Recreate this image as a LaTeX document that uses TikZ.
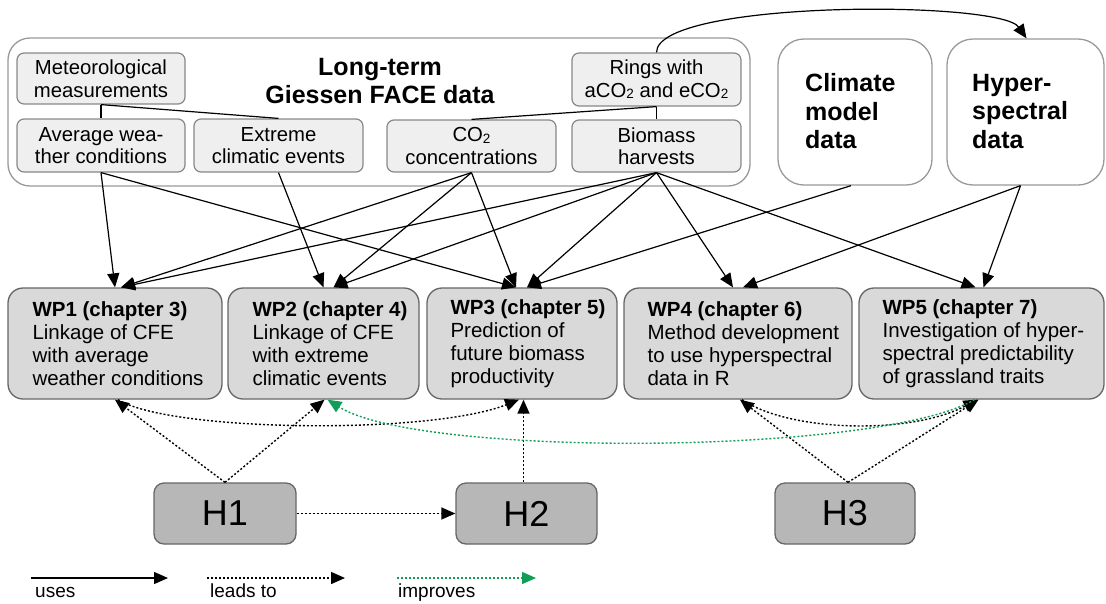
\documentclass[tikz,border=0pt]{standalone}
\usepackage{fontspec}
\setmainfont{Liberation Sans}
\usetikzlibrary{arrows.meta,calc}
\definecolor{smallfill}{HTML}{EFEFEF}
\definecolor{smalldraw}{HTML}{888888}
\definecolor{wpfill}{HTML}{D9D9D9}
\definecolor{wpdraw}{HTML}{666666}
\definecolor{hfill}{HTML}{B7B7B7}
\definecolor{outerdraw}{HTML}{999999}
\definecolor{improvegreen}{RGB}{15,157,88}
\newcommand\subtwo{\raisebox{-0.15ex}{\fontsize{13.5}{13.5}\selectfont 2}}
\begin{document}
\begin{tikzpicture}[x=1pt,y=-1pt,
  smallbox/.style={draw=smalldraw, fill=smallfill, line width=1.2pt, rounded corners=7pt, align=center, font=\fontsize{20.3}{22.5}\selectfont, inner sep=0pt},
  outerbox/.style={draw=outerdraw, line width=1.3pt, rounded corners=22pt, inner sep=0pt},
  bigbox/.style={draw=outerdraw, fill=white, line width=1.3pt, rounded corners=26pt, inner sep=0pt, minimum height=146pt},
  bigtext/.style={align=left, font=\bfseries\fontsize{25}{28.5}\selectfont, anchor=west, inner sep=0pt},
  wpbox/.style={draw=wpdraw, fill=wpfill, line width=1.3pt, rounded corners=15pt, minimum height=111pt, inner sep=0pt},
  wptext/.style={align=left, font=\fontsize{20.5}{23}\selectfont, anchor=west, inner sep=0pt},
  hbox/.style={draw=wpdraw, fill=hfill, line width=1.3pt, rounded corners=10pt, minimum height=61pt, inner sep=0pt, font=\fontsize{36}{36}\selectfont},
  legtext/.style={anchor=base west, inner sep=0pt, font=\fontsize{19}{19}\selectfont},
  uses/.style={draw=black, line width=1.2pt, -{Triangle[length=14pt,width=12pt]}},
  leads/.style={draw=black, line width=1.4pt, dash pattern=on 2pt off 2pt, -{Triangle[length=14pt,width=12pt]}},
  improves/.style={draw=improvegreen, line width=1.4pt, dash pattern=on 2pt off 2pt, -{Triangle[length=14pt,width=12pt]}},
  plainline/.style={draw=black, line width=1.2pt}
]
\useasboundingbox (0,0) rectangle (1106,603);

% top data block
\node[outerbox, minimum width=742pt, minimum height=148pt] (outer) at (379,112) {};
\node[font=\bfseries\fontsize{25}{28}\selectfont, align=center, inner sep=0pt] (title) at (380,81) {Long-term\\Giessen FACE data};
\node[smallbox, minimum width=168pt, minimum height=51pt] (met) at (101,78.5) {Meteorological\\measurements};
\node[smallbox, minimum width=168pt, minimum height=53pt] (avg) at (101,145.5) {Average wea-\\ther conditions};
\node[smallbox, minimum width=169pt, minimum height=53pt] (ext) at (278.5,145.5) {Extreme\\climatic events};
\node[smallbox, minimum width=169pt, minimum height=52pt] (co2) at (471.5,146) {CO\subtwo\\concentrations};
\node[smallbox, minimum width=169pt, minimum height=52pt] (bio) at (656.5,146) {Biomass\\harvests};
\node[smallbox, minimum width=169pt, minimum height=53pt] (rings) at (656.5,79.5) {Rings with\\aCO\subtwo{} and eCO\subtwo};

\draw[plainline] (met.south) -- (avg.north);
\draw[plainline] (met.south) -- (ext.north);
\draw[plainline] (rings.south) -- (bio.north);
\draw[plainline] (rings.south) -- (co2.north);

\node[bigbox, minimum width=154pt] (clim) at (855,112) {};
\node[bigtext] (climtext) at (805,111.5) {Climate\\model\\data};
\node[bigbox, minimum width=157pt] (hyp) at (1025.5,112) {};
\node[bigtext] (hyptext) at (972,111.5) {Hyper-\\spectral\\data};

\draw[uses] (rings.north) .. controls (657,0) and (1000,0) .. ($(hyp.north)+(1,0)$);

% work packages
\node[wpbox, minimum width=214pt] (wp1) at (115,343.5) {};
\node[wptext] (wp1text) at ($(wp1.west)+(25,0)$) {\textbf{WP1 (chapter 3)}\\Linkage of CFE\\with average\\weather conditions};
\node[wpbox, minimum width=191pt] (wp2) at (323.5,343.5) {};
\node[wptext] (wp2text) at ($(wp2.west)+(25,0)$) {\textbf{WP2 (chapter 4)}\\Linkage of CFE\\with extreme\\climatic events};
\node[wpbox, minimum width=190pt] (wp3) at (522,343.5) {};
\node[wptext] (wp3text) at ($(wp3.west)+(24,0)$) {\textbf{WP3 (chapter 5)}\\Prediction of\\future biomass\\productivity};
\node[wpbox, minimum width=228pt] (wp4) at (738,343.5) {};
\node[wptext] (wp4text) at ($(wp4.west)+(24,0)$) {\textbf{WP4 (chapter 6)}\\Method development\\to use hyperspectral\\data in R};
\node[wpbox, minimum width=245pt] (wp5) at (981.5,343.5) {};
\node[wptext] (wp5text) at ($(wp5.west)+(24,0)$) {\textbf{WP5 (chapter 7)}\\Investigation of hyper-\\spectral predictability\\of grassland traits};

% uses arrows
\draw[uses] (avg.south) -- (wp1.north);
\draw[uses] (avg.south) -- ($(wp3.north)+(-6,0)$);
\draw[uses] (ext.south) -- (wp2.north);
\draw[uses] (co2.south) -- ($(wp1.north)+(6,0)$);
\draw[uses] (co2.south) -- ($(wp2.north)+(10,0)$);
\draw[uses] (co2.south) -- ($(wp3.north)+(-6,0)$);
\draw[uses] (bio.south) -- ($(wp1.north)+(6,0)$);
\draw[uses] (bio.south) -- ($(wp2.north)+(10,0)$);
\draw[uses] (bio.south) -- ($(wp3.north)+(5,0)$);
\draw[uses] (bio.south) -- ($(wp4.north)+(-5,0)$);
\draw[uses] (bio.south) -- ($(wp5.north)+(-6,0)$);
\draw[uses] ($(clim.south)+(-4,0)$) -- ($(wp3.north)+(5,0)$);
\draw[uses] ($(hyp.south)+(-5,0)$) -- ($(wp4.north)+(5,0)$);
\draw[uses] ($(hyp.south)+(-5,0)$) -- ($(wp5.north)+(2,0)$);

% hypotheses
\node[hbox, minimum width=142pt] (h1) at (225,513.5) {H1};
\node[hbox, minimum width=141pt] (h2) at (526.5,513.5) {H2};
\node[hbox, minimum width=140pt] (h3) at (845,513.5) {H3};

\draw[leads] (h1.north) -- (wp1.south);
\draw[leads] (h1.north) -- ($(wp2.south)+(1,0)$);
\draw[leads] (h1.east) -- (h2.west);
\draw[leads] ($(h2.north)+(-3,0)$) -- ($(wp3.south)+(1.5,0)$);
\draw[leads] ($(h3.north)+(3,0)$) -- ($(wp4.south)+(2,0)$);
\draw[leads] ($(h3.north)+(3,0)$) -- ($(wp5.south)+(-3,0)$);
\draw[leads] ($(wp1.south)+(3,0)$) .. controls (170,432) and (430,435) .. ($(wp3.south)+(-3,0)$);
\draw[leads] ($(wp4.south)+(4,0)$) .. controls (790,432) and (910,435) .. ($(wp5.south)+(-4,0)$);
\draw[improves] ($(wp5.south)+(-7,0)$) .. controls (880,455) and (420,458) .. ($(wp2.south)+(4,0)$);

% legend
\coordinate (l1a) at (31,578);
\coordinate (l1b) at (168,578);
\coordinate (l2a) at (207,578);
\coordinate (l2b) at (345,578);
\coordinate (l3a) at (397,578);
\coordinate (l3b) at (536,578);
\draw[uses] (l1a) -- (l1b);
\draw[leads] (l2a) -- (l2b);
\draw[improves] (l3a) -- (l3b);
\node[legtext] (luses) at (35,597) {uses};
\node[legtext] (lleads) at (210,597) {leads to};
\node[legtext] (limpr) at (398,597) {improves};
\end{tikzpicture}
\end{document}
